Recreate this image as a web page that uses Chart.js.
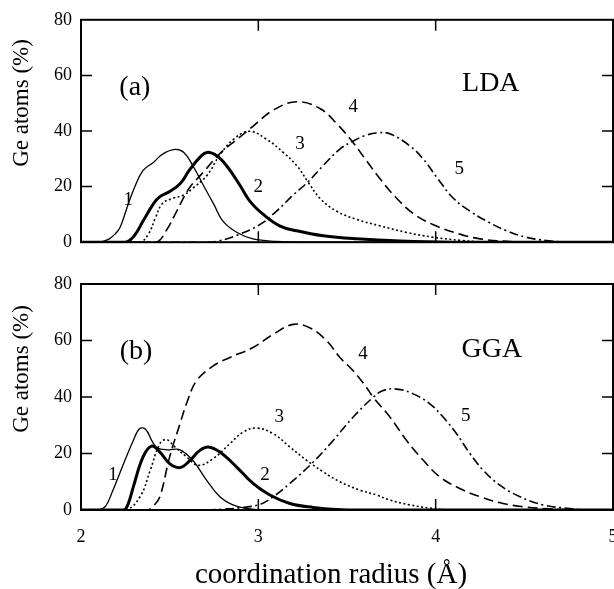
<!DOCTYPE html>
<html>
<head>
<meta charset="utf-8">
<script src="https://cdn.jsdelivr.net/npm/chart.js@4"></script>
<style>
  html, body { margin: 0; padding: 0; background: #fff; }
  #wrap { position: relative; width: 614px; height: 589px; overflow: hidden; }
  canvas { position: absolute; left: 0; }
  #lda-chart { top: 0; }
  #gga-chart { top: 262px; }
</style>
</head>
<body>
<div id="wrap">
  <canvas id="lda-chart" width="614" height="262"></canvas>
  <canvas id="gga-chart" width="614" height="327"></canvas>
</div>
<script>
// (a) LDA : fraction of Ge atoms with coordination 1..5 vs coordination radius (Å)
const ldaX1 = [2.0, 2.10, 2.13, 2.16, 2.19, 2.22, 2.26, 2.30, 2.35, 2.41, 2.46, 2.53, 2.58, 2.63, 2.69, 2.75, 2.80, 2.88, 2.97, 3.1, 3.25, 5.0];
const ldaY1 = [0, 0, 0.4, 1.2, 2.8, 5.3, 12.5, 19.4, 25.8, 28.8, 31.7, 33.4, 32.3, 27.6, 20.5, 13.5, 7.6, 3.5, 1.2, 0.3, 0, 0];
const ldaX2 = [2.0, 2.25, 2.30, 2.35, 2.41, 2.445, 2.50, 2.56, 2.61, 2.67, 2.71, 2.765, 2.82, 2.896, 2.953, 3.028, 3.12, 3.216, 3.366, 3.554, 3.8, 4.1, 5.0];
const ldaY2 = [0, 0, 2.3, 7.6, 14, 16.4, 18.2, 21.1, 25.8, 30.5, 32.3, 31.1, 27.6, 20.5, 14.7, 10, 5.9, 4.1, 2.3, 1.2, 0.4, 0, 0];
const ldaX3 = [2.0, 2.33, 2.38, 2.42, 2.46, 2.52, 2.58, 2.63, 2.71, 2.78, 2.86, 2.95, 3.047, 3.14, 3.216, 3.28, 3.347, 3.44, 3.554, 3.685, 3.836, 3.986, 4.15, 4.3, 5.0];
const ldaY3 = [0, 0, 2.9, 8.8, 14, 15.8, 17, 19.4, 24, 31.1, 37, 39.9, 37, 32.3, 27.6, 21.7, 15.8, 11.2, 8.2, 5.9, 3.5, 1.8, 0.6, 0, 0];
const ldaX4 = [2.0, 2.42, 2.48, 2.54, 2.61, 2.69, 2.78, 2.88, 2.97, 3.084, 3.216, 3.347, 3.44, 3.535, 3.61, 3.685, 3.78, 3.88, 3.99, 4.136, 4.25, 4.4, 4.55, 5.0];
const ldaY4 = [0, 0, 4.1, 11.2, 19.4, 25.2, 31.7, 37, 41.7, 47.5, 50.5, 48.1, 42.8, 35.8, 29.3, 22.9, 15.8, 10, 6.2, 2.9, 1.2, 0.3, 0, 0];
const ldaX5 = [2.0, 2.70, 2.78, 2.88, 3.01, 3.103, 3.197, 3.28, 3.366, 3.46, 3.535, 3.60, 3.667, 3.742, 3.855, 3.93, 4.01, 4.1, 4.193, 4.287, 4.4, 4.51, 4.625, 4.75, 5.0];
const ldaY5 = [0, 0, 0.5, 2.5, 6.4, 11.2, 17, 21.7, 27.6, 33.5, 36.4, 38.3, 39.3, 39, 34.6, 29.9, 23, 15.8, 11.2, 7.6, 4.1, 1.8, 0.6, 0, 0];

// (b) GGA
const ggaX1 = [2.0, 2.10, 2.14, 2.18, 2.24, 2.295, 2.33, 2.365, 2.40, 2.43, 2.49, 2.558, 2.63, 2.708, 2.783, 2.857, 2.93, 3.05, 5.0];
const ggaY1 = [0, 0, 1.5, 7, 16.4, 24.6, 28.8, 28.5, 24.5, 22, 21.3, 21.3, 17.6, 10.6, 4.7, 1.8, 0.6, 0, 0];
const ggaX2 = [2.0, 2.24, 2.265, 2.295, 2.35, 2.398, 2.445, 2.50, 2.558, 2.614, 2.67, 2.718, 2.783, 2.878, 2.97, 3.065, 3.178, 3.31, 3.44, 3.6, 5.0];
const ggaY2 = [0, 0, 2, 8.2, 18.8, 22.6, 20.5, 16.4, 15, 17.5, 21.1, 22.3, 20.5, 15.2, 9.4, 5.3, 2.3, 0.9, 0.2, 0, 0];
const ggaX3 = [2.0, 2.25, 2.333, 2.39, 2.445, 2.483, 2.53, 2.596, 2.66, 2.746, 2.84, 2.915, 2.99, 3.084, 3.178, 3.272, 3.366, 3.46, 3.573, 3.667, 3.742, 3.855, 3.967, 4.1, 5.0];
const ggaY3 = [0, 0, 4.7, 14, 23.5, 24.9, 22.3, 18.8, 15.8, 18.2, 23.5, 27.6, 29, 27, 22.3, 17.6, 13.5, 10, 7, 5.3, 3.5, 1.8, 0.7, 0, 0];
const ggaX4 = [2.0, 2.37, 2.41, 2.445, 2.50, 2.558, 2.60, 2.652, 2.746, 2.84, 2.97, 3.084, 3.197, 3.29, 3.385, 3.46, 3.535, 3.61, 3.648, 3.742, 3.836, 3.93, 4.024, 4.136, 4.25, 4.38, 4.49, 4.64, 4.8, 5.0];
const ggaY4 = [0, 0, 1.5, 4.7, 18.8, 30.5, 38.5, 45.8, 51, 54, 57.5, 62.2, 65.7, 64.5, 59.9, 54, 49.3, 43.4, 39.9, 32.9, 24.6, 17.6, 11.7, 7.6, 4.7, 2.3, 1.2, 0.4, 0, 0];
const ggaX5 = [2.0, 2.70, 2.80, 2.90, 3.01, 3.084, 3.178, 3.31, 3.422, 3.535, 3.648, 3.704, 3.78, 3.873, 3.967, 4.042, 4.118, 4.193, 4.268, 4.362, 4.475, 4.606, 4.757, 4.85, 5.0];
const ggaY5 = [0, 0, 0.3, 0.8, 2, 4.7, 9.4, 17, 24.6, 32.9, 39.9, 42.3, 42.8, 41.1, 37.6, 32.9, 27, 20, 14.1, 8.8, 4.7, 1.8, 0.5, 0, 0];

// curve number labels, placed in data coordinates
const curveNames = ['1', '2', '3', '4', '5'];
const ldaNameX = [2.267, 2.999, 3.235, 3.535, 4.133];
const ldaNameY = [15.3, 20, 35.2, 48.7, 26.4];
const ggaNameX = [2.18, 3.037, 3.118, 3.59, 4.17];
const ggaNameY = [12.3, 12.3, 32.9, 55.2, 33.1];

const X_MIN = 2, X_MAX = 5, Y_MIN = 0, Y_MAX = 80;
const SERIF = '"Liberation Serif", "Times New Roman", serif';

const CURVE_STYLES = [
    { borderWidth: 1.3, borderDash: [] },
    { borderWidth: 3, borderDash: [] },
    { borderWidth: 1.6, borderDash: [2, 2.5] },
    { borderWidth: 1.6, borderDash: [10, 5] },
    { borderWidth: 1.6, borderDash: [9, 3.5, 2, 3.5] }
];

const toPoints = (xs, ys) => xs.map((x, i) => ({ x, y: ys[i] }));

const buildDatasets = (series) => series.map(([xs, ys], i) => ({
    label: curveNames[i],
    data: toPoints(xs, ys),
    borderColor: '#000',
    borderWidth: CURVE_STYLES[i].borderWidth,
    borderDash: CURVE_STYLES[i].borderDash,
    borderCapStyle: 'butt',
    pointRadius: 0,
    fill: false,
    tension: 0.4
}));

// frame, inward ticks and all the free text of one panel
const panelDecor = (cfg) => ({
    id: 'panelDecor',
    afterDatasetsDraw(chart) {
        const { ctx, chartArea: a, scales: { x, y } } = chart;
        ctx.save();
        ctx.strokeStyle = '#000';
        ctx.lineWidth = 2;
        ctx.strokeRect(a.left, a.top, a.right - a.left, a.bottom - a.top);
        ctx.lineWidth = 1.5;
        const tl = 11;
        ctx.beginPath();
        x.ticks.map(t => t.value).filter(v => v > X_MIN && v < X_MAX).forEach(v => {
            const px = x.getPixelForValue(v);
            ctx.moveTo(px, a.bottom); ctx.lineTo(px, a.bottom - tl);
            ctx.moveTo(px, a.top); ctx.lineTo(px, a.top + tl);
        });
        y.ticks.map(t => t.value).filter(v => v > Y_MIN && v < Y_MAX).forEach(v => {
            const py = y.getPixelForValue(v);
            ctx.moveTo(a.left, py); ctx.lineTo(a.left + tl, py);
            ctx.moveTo(a.right, py); ctx.lineTo(a.right - tl, py);
        });
        ctx.stroke();
        ctx.restore();
    },
    afterDraw(chart) {
        const { ctx, chartArea: a, scales: { x, y } } = chart;
        ctx.save();
        ctx.fillStyle = '#000';
        ctx.textAlign = 'center';
        ctx.textBaseline = 'middle';

        ctx.font = `19px ${SERIF}`;
        curveNames.forEach((n, i) => {
            ctx.fillText(n, x.getPixelForValue(cfg.nameX[i]), y.getPixelForValue(cfg.nameY[i]));
        });

        ctx.font = `28px ${SERIF}`;
        ctx.fillText(cfg.tag, x.getPixelForValue(cfg.tagAt[0]), y.getPixelForValue(cfg.tagAt[1]));
        ctx.fillText(cfg.method, x.getPixelForValue(cfg.methodAt[0]), y.getPixelForValue(cfg.methodAt[1]));

        // y title, sits a little above the middle of the panel
        ctx.save();
        ctx.translate(22, (a.top + a.bottom) / 2 - 28);
        ctx.rotate(-Math.PI / 2);
        ctx.font = `23px ${SERIF}`;
        ctx.fillText('Ge atoms (%)', 0, 0);
        ctx.restore();

        if (cfg.xTitle) {
            ctx.font = `29px ${SERIF}`;
            ctx.fillText(cfg.xTitle, (a.left + a.right) / 2 - 16, chart.height - 14);
        }
        ctx.restore();
    }
});

const makePanel = (el, series, cfg) => new Chart(el, {
    type: 'line',
    data: { datasets: buildDatasets(series) },
    options: {
        responsive: false,
        animation: false,
        events: [],
        layout: { padding: { top: cfg.padTop, right: 1, bottom: 0, left: 0 } },
        plugins: { legend: { display: false }, tooltip: { enabled: false } },
        scales: {
            x: {
                type: 'linear',
                min: X_MIN,
                max: X_MAX,
                grid: { display: false, drawTicks: false },
                border: { display: false },
                ticks: {
                    display: cfg.showXTicks,
                    stepSize: 1,
                    padding: 16,
                    color: '#000',
                    font: { family: SERIF, size: 18 },
                    maxRotation: 0
                },
                afterFit: (s) => {
                    s.height = cfg.xAxisHeight;
                    // let the end labels run past the frame, as in the print
                    s.paddingLeft = 0;
                    s.paddingRight = 0;
                }
            },
            y: {
                min: Y_MIN,
                max: Y_MAX,
                grid: { display: false, drawTicks: false },
                border: { display: false },
                ticks: {
                    stepSize: 20,
                    padding: 9,
                    color: '#000',
                    font: { family: SERIF, size: 18 }
                },
                afterFit: (s) => { s.width = 81; }
            }
        }
    },
    plugins: [panelDecor(cfg)]
});

makePanel(document.getElementById('lda-chart'),
    [[ldaX1, ldaY1], [ldaX2, ldaY2], [ldaX3, ldaY3], [ldaX4, ldaY4], [ldaX5, ldaY5]],
    {
        padTop: 18, xAxisHeight: 17, showXTicks: false,
        nameX: ldaNameX, nameY: ldaNameY,
        tag: '(a)', tagAt: [2.304, 55.5],
        method: 'LDA', methodAt: [4.311, 56.9]
    });

makePanel(document.getElementById('gga-chart'),
    [[ggaX1, ggaY1], [ggaX2, ggaY2], [ggaX3, ggaY3], [ggaX4, ggaY4], [ggaX5, ggaY5]],
    {
        padTop: 22, xAxisHeight: 79, showXTicks: true,
        nameX: ggaNameX, nameY: ggaNameY,
        tag: '(b)', tagAt: [2.31, 56.1],
        method: 'GGA', methodAt: [4.317, 56.7],
        xTitle: 'coordination radius (Å)'
    });
</script>
</body>
</html>
